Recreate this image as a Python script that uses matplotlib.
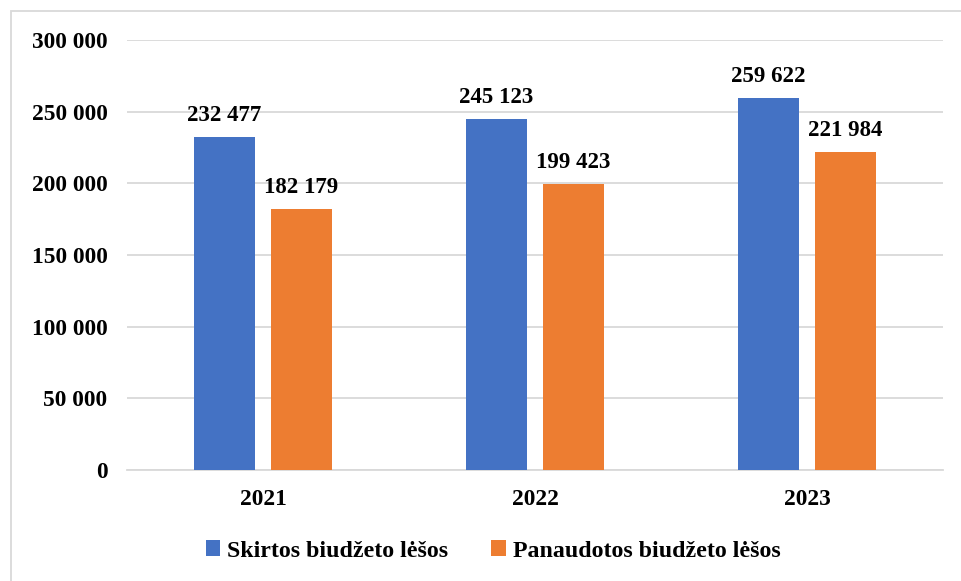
import matplotlib.pyplot as plt
from matplotlib.patches import Rectangle
import numpy as np

years = ["2021", "2022", "2023"]
skirtos = [232477, 245123, 259622]
panaudotos = [182179, 199423, 221984]
series_names = ["Skirtos biudžeto lėšos", "Panaudotos biudžeto lėšos"]
colors = ["#4472C4", "#ED7D31"]

plt.rcParams['font.family'] = ['Liberation Serif', 'DejaVu Serif']
plt.rcParams['font.weight'] = 'bold'

def fmt(v):
    return f"{int(v):,}".replace(",", " ")

fig = plt.figure(figsize=(9.62, 5.81), dpi=100)
ax = fig.add_axes([127/962, 111/581, 816/962, 430/581])

# light frame around the chart area
fig.patches.append(Rectangle((11/962, -0.1), 1.2, 1.1 - 11/581,
                             transform=fig.transFigure, fill=False,
                             edgecolor="#d9d9d9", linewidth=1.3))

x = np.arange(len(years))
w = 0.224
off = 0.1415
b1 = ax.bar(x - off, skirtos, w, color=colors[0], label=series_names[0], zorder=3)
b2 = ax.bar(x + off, panaudotos, w, color=colors[1], label=series_names[1], zorder=3)

for bars, vals in ((b1, skirtos), (b2, panaudotos)):
    for b, v in zip(bars, vals):
        ax.annotate(fmt(v), (b.get_x() + b.get_width()/2, v), xytext=(0, 8),
                    textcoords="offset points", ha="center", va="bottom",
                    fontsize=16.5, fontweight="bold")

ax.set_xlim(-0.5, 2.5)
ax.set_ylim(0, 300000)
ax.set_yticks(np.arange(0, 300001, 50000))
ax.set_yticklabels([fmt(t) for t in np.arange(0, 300001, 50000)])
ax.set_xticks(x)
ax.set_xticklabels(years)
ax.tick_params(axis="both", length=0, labelsize=16.8)
ax.tick_params(axis="y", pad=14)
ax.tick_params(axis="x", pad=14)
ax.yaxis.grid(True, color="#d9d9d9", linewidth=1.3, zorder=0)
ax.set_axisbelow(True)
for s in ["top", "right", "left"]:
    ax.spines[s].set_visible(False)
ax.spines["bottom"].set_color("#d9d9d9")
ax.spines["bottom"].set_linewidth(1.3)

fig.legend(handles=[b1, b2], loc="center", bbox_to_anchor=(493/962, 1 - 551/581),
           ncol=2, frameon=False, fontsize=17.2, handlelength=0.6, handleheight=0.6,
           handletextpad=0.3, columnspacing=1.8)

fig.savefig("out.png", dpi=100)
